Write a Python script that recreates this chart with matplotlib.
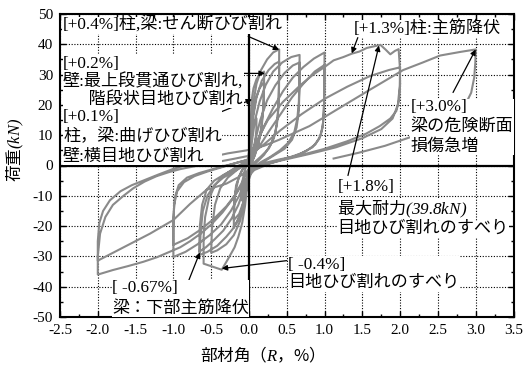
import matplotlib
matplotlib.use("Agg")
import matplotlib.pyplot as plt
import numpy as np
from matplotlib.ticker import MultipleLocator, FormatStrFormatter

plt.rcParams['font.family'] = ['Liberation Serif', 'Noto Sans CJK JP']
plt.rcParams['axes.unicode_minus'] = False
plt.rcParams['mathtext.fontset'] = 'custom'
plt.rcParams['mathtext.rm'] = 'Liberation Serif:italic'
plt.rcParams['mathtext.it'] = 'Liberation Serif:italic'

# ---- load history: drift angle R (%) and load P (kN), cycle by cycle ----
c01_R = [0, 0.005, 0.015, 0.035, 0.065, 0.1, 0.098, 0.085, 0.06, 0.03, 0.0, -0.02, -0.045, -0.075, -0.1, -0.098, -0.085, -0.06, -0.03, 0.0]
c01_P = [0, 4, 8, 11.5, 14, 15.5, 12, 8, 4.5, 1.5, -1, -4, -7.5, -10, -11.5, -8, -5, -2, 0, 1.5]

c02_R = [0.01, 0.025, 0.035, 0.06, 0.1, 0.15, 0.2, 0.2, 0.19, 0.16, 0.12, 0.07, 0.02, -0.02, -0.05, -0.09, -0.14, -0.2, -0.2, -0.18, -0.14, -0.09, -0.04, 0.0]
c02_P = [6, 15, 21.5, 25.5, 28.5, 30.2, 31, 26, 19, 12, 7, 3, 0, -4, -9, -14, -18, -20.5, -15, -9, -4.5, -1.5, 0.5, 2]

c03_R = [0.02, 0.05, 0.09, 0.14, 0.2, 0.195, 0.17, 0.13, 0.08, 0.03, -0.01, -0.04, -0.08, -0.13, -0.2, -0.195, -0.17, -0.12, -0.07, -0.02]
c03_P = [8, 16, 22, 25.5, 27.5, 21, 13, 7.5, 3.5, 0.5, -3, -8, -12.5, -16, -18, -12, -6.5, -3, -0.5, 1.5]

c04_R = [0.01, 0.03, 0.06, 0.1, 0.16, 0.24, 0.32, 0.38, 0.4, 0.398, 0.393, 0.38, 0.35, 0.29, 0.2, 0.1, 0.02,
         -0.02, -0.05, -0.09, -0.14, -0.19, -0.28, -0.36, -0.6, -0.6, -0.58, -0.53, -0.45, -0.35, -0.23, -0.1, 0.0]
c04_P = [6, 14, 21, 27, 31.5, 35, 37.3, 38.1, 38.3, 30, 22, 16, 11, 7, 3.5, 1, -1.5,
         -6, -13, -19, -23.5, -27, -31, -34.4, -32.4, -23.6, -17, -11, -6.5, -3.5, -1.5, 0.5, 2]

c05_R = [0.02, 0.05, 0.1, 0.17, 0.26, 0.34, 0.4, 0.398, 0.39, 0.37, 0.33, 0.26, 0.16, 0.07, 0.0,
         -0.03, -0.07, -0.12, -0.2, -0.3, -0.42, -0.5, -0.49, -0.45, -0.38, -0.28, -0.16, -0.05, 0.02]
c05_P = [7, 15, 22.5, 28, 31.5, 33.5, 34.3, 26, 19, 13.5, 9, 5.5, 3, 1, -1.5,
         -7, -13, -18.5, -23, -26, -28, -28.8, -21, -13, -7.5, -4, -1.5, 0.5, 2.5]

c06_R = [0.04, 0.08, 0.14, 0.22, 0.32, 0.44, 0.56, 0.67, 0.668, 0.66, 0.64, 0.6, 0.52, 0.41, 0.28, 0.15, 0.05,
         -0.02, -0.06, -0.12, -0.2, -0.3, -0.42, -0.55, -0.65, -0.64, -0.61, -0.55, -0.46, -0.34, -0.2, -0.07, 0.03]
c06_P = [8, 15, 21, 26.5, 31, 34, 35.8, 36.5, 28, 21, 15.5, 11, 7.5, 5, 2.8, 1, -1,
         -6, -11.5, -16.5, -20.5, -23.5, -26.5, -28.5, -29.5, -22, -15, -10, -6.5, -4, -2, 0, 2]

c07_R = [0.08, 0.15, 0.24, 0.35, 0.47, 0.58, 0.67, 0.668, 0.66, 0.63, 0.57, 0.47, 0.34, 0.2, 0.08,
         -0.01, -0.07, -0.14, -0.23, -0.34, -0.46, -0.57, -0.66, -0.65, -0.62, -0.56, -0.46, -0.33, -0.18, -0.05, 0.05]
c07_P = [8, 15, 21.5, 26.5, 30.5, 33, 34, 25, 18, 12.5, 8.5, 5.5, 3.5, 1.3, -0.5,
         -3.5, -8, -13, -17.5, -21.5, -24.5, -27, -28.5, -20, -13, -8, -5, -3, -1, 0.5, 2.5]

c08_R = [0.1, 0.2, 0.32, 0.45, 0.58, 0.72, 0.86, 1.0, 0.998, 0.993, 0.98, 0.95, 0.88, 0.76, 0.6, 0.42, 0.22, 0.05,
         -0.05, -0.13, -0.24, -0.37, -0.52, -0.68, -0.84, -1.0, -1.0, -0.99, -0.95, -0.86, -0.72, -0.55, -0.35, -0.15, 0.0]
c08_P = [7, 13, 19, 24.5, 29, 32.5, 35.3, 37.3, 28, 20, 14, 10, 7, 4.8, 3, 1.8, 0.5, -1.5,
         -5, -10, -15, -19.5, -23, -26, -28.5, -30.2, -21, -13, -8.5, -5.5, -3.5, -2, -0.5, 1, 2]

c09_R = [0.13, 0.27, 0.42, 0.57, 0.72, 0.87, 1.0, 0.998, 0.99, 0.975, 0.93, 0.84, 0.69, 0.49, 0.27, 0.07,
         -0.06, -0.16, -0.3, -0.46, -0.63, -0.81, -1.0, -1.0, -0.98, -0.93, -0.82, -0.66, -0.45, -0.22, 0.0]
c09_P = [6, 11.5, 17, 22.5, 27, 31, 33.2, 24.5, 17.5, 12.5, 8.8, 6, 4, 2.3, 0.6, -1.5,
         -5, -9, -13.5, -17.5, -21, -24, -26.2, -17, -10.5, -6.5, -4, -2.5, -1, 0.5, 2]

c10_R = [0.1, 0.25, 0.45, 0.68, 0.85, 1.0, 1.12, 1.25, 1.36, 1.46, 1.56, 1.65, 1.74, 1.81, 1.87, 1.93, 1.98,
         1.995, 2.0, 1.99, 1.95, 1.87, 1.73, 1.55, 1.3, 1.0, 0.7, 0.4, 0.15, 0.0,
         -0.08, -0.2, -0.35, -0.5, -0.64, -0.78, -0.91, -1.05, -1.22, -1.4, -1.6, -1.8, -2.0,
         -2.0, -1.97, -1.9, -1.8, -1.66, -1.53, -1.38, -1.22, -1.06, -0.91, -0.75, -0.6, -0.4, -0.2, 0.0]
c10_P = [8, 15, 21, 26.5, 30, 32.5, 34.7, 35.8, 36.9, 37.6, 38.8, 39.3, 39.8, 38.2, 36.7, 37.8, 38.4,
         33, 27, 22, 18, 15.5, 13, 10.5, 8, 5.5, 3.5, 2, 0.5, -1,
         -5, -10.5, -15.5, -19.5, -22.5, -25, -27, -28.5, -30.3, -31.8, -33.2, -34.5, -36,
         -30, -22.5, -17, -13, -10, -7.5, -5.3, -3.5, -2.2, -1.2, -0.4, 0.3, 1.2, 2.2, 3.2]

c11_R = [0.2, 0.41, 0.7, 1.0, 1.3, 1.6, 1.85, 2.0, 1.995, 1.97, 1.9, 1.75, 1.5, 1.15, 0.8, 0.45, 0.15, 0.0,
         -0.15, -0.3, -0.56, -0.78, -1.0, -1.31, -1.66, -2.0,
         -2.0, -1.98, -1.93, -1.84, -1.7, -1.55, -1.4, -1.2, -1.0, -0.75, -0.52, -0.28, -0.03]
c11_P = [7, 11.5, 17, 22, 26, 29.5, 31.5, 32.4, 26, 20, 15.5, 12, 9, 6, 3.8, 1.8, 0, -1.5,
         -4, -6, -8, -12.7, -18, -22.5, -27, -31.4,
         -25, -19, -15, -11.5, -8.5, -6.5, -5, -3, -1.1, 0.8, 2.7, 4, 5]

c12_R = [0.2, 0.4, 0.8, 1.2, 1.6, 2.04, 2.3, 2.53, 2.8, 3.0, 2.995, 2.98, 2.94, 2.86, 2.7, 2.45, 2.13, 1.8, 1.45, 1.12]
c12_P = [6.5, 8.5, 13, 19, 25, 31.5, 34, 36.3, 37.5, 38.3, 34, 29, 24, 20, 16.5, 13, 9.3, 6.5, 4.2, 2.3]

cycles = [(c01_R, c01_P), (c02_R, c02_P), (c03_R, c03_P), (c04_R, c04_P), (c05_R, c05_P),
          (c06_R, c06_P), (c07_R, c07_P), (c08_R, c08_P), (c09_R, c09_P), (c10_R, c10_P),
          (c11_R, c11_P), (c12_R, c12_P)]

R_all = np.concatenate([np.asarray(r, float) for r, _ in cycles])
P_all = np.concatenate([np.asarray(p, float) for _, p in cycles])

x_ticks = [-2.5, -2.0, -1.5, -1.0, -0.5, 0.0, 0.5, 1.0, 1.5, 2.0, 2.5, 3.0, 3.5]
y_ticks = [-50, -40, -30, -20, -10, 0, 10, 20, 30, 40, 50]

fig = plt.figure(figsize=(5.3, 3.69), dpi=100)
ax = fig.add_axes([60 / 530, 1 - 317 / 369, (513.5 - 60) / 530, (317 - 14) / 369])

ax.plot(R_all, P_all, color='#8a8a8a', lw=1.5, solid_joinstyle='round', zorder=3)

ax.set_xlim(x_ticks[0], x_ticks[-1])
ax.set_ylim(y_ticks[0], y_ticks[-1])
ax.set_xticks(x_ticks)
ax.set_yticks(y_ticks)
ax.xaxis.set_minor_locator(MultipleLocator(0.25))
ax.yaxis.set_minor_locator(MultipleLocator(5))
ax.xaxis.set_major_formatter(FormatStrFormatter('%.1f'))
ax.yaxis.set_major_formatter(FormatStrFormatter('%d'))
ax.grid(True, which='major', color='black', linestyle=(0, (1, 1.5)), linewidth=0.8, zorder=1)
ax.axhline(0, color='black', lw=1.6, zorder=4)
ax.axvline(0, color='black', lw=1.6, zorder=4)
for s in ax.spines.values():
    s.set_linewidth(1.5)
ax.tick_params(which='both', direction='in', top=True, right=True, width=1.0)
ax.tick_params(which='major', length=4, labelsize=11, pad=5)
ax.tick_params(which='minor', length=2.5)
for lab in ax.get_xticklabels() + ax.get_yticklabels():
    lab.set_family('Liberation Serif')

box = dict(fc='white', ec='none', pad=0.3)
def note(x, y, s, size=12.3, ls=1.2, **kw):
    return ax.text(x, y, s, fontsize=size, ha='left', va='center', zorder=7, bbox=box,
                   linespacing=ls, **kw)

def arrow(x0, y0, x1, y1):
    ax.annotate('', xy=(x1, y1), xytext=(x0, y0), zorder=6,
                arrowprops=dict(arrowstyle='-|>', color='black', lw=0.9,
                                mutation_scale=8, shrinkA=0, shrinkB=0))

arrow(-0.01, 42.6, 0.40, 38.2)
arrow(-0.08, 30.4, 0.21, 30.4)
arrow(-0.72, 14.2, 0.04, 21.8)
arrow(1.44, 42.2, 1.36, 37.0)
arrow(1.31, -3.3, 1.72, 39.6)
arrow(2.70, 24.1, 3.00, 38.3)
arrow(-0.85, -41.3, -0.65, -28.7)
arrow(0.50, -31.4, -0.36, -34.0)

note(-2.47, 46.2, '[+0.4%]柱,梁:せん断ひび割れ')
note(-2.46, 27.6, '[+0.2%]\n壁:最上段貫通ひび割れ,\n\u3000  階段状目地ひび割れ', ls=1.12)
note(-2.46, 9.5, '[+0.1%]\n柱，梁:曲げひび割れ\n壁:横目地ひび割れ', ls=1.3)
note(1.38, 45.2, '[+1.3%]柱:主筋降伏')
note(2.14, 12.7, '[+3.0%]\n梁の危険断面\n損傷急増', ls=1.3)
note(1.17, -7.2, '[+1.8%]')
note(1.17, -14.4, '最大耐力$(39.8kN)$', family='Noto Sans CJK JP')
note(1.17, -21.0, '目地ひび割れのすべり')
note(0.52, -35.8, '[ -0.4%]\n目地ひび割れのすべり', ls=1.2)
note(-1.81, -43.9, '[ -0.67%]\n梁：下部主筋降伏', ls=1.4)

fig.text(258 / 530, 1 - 355 / 369, '部材角（$R$，%）', fontsize=12, ha='center', va='center',
         family='Noto Sans CJK JP')
fig.text(15 / 530, 1 - 150 / 369, '荷重$(kN)$', fontsize=12, ha='center', va='center',
         rotation=90, family='Noto Sans CJK JP')

fig.savefig('out.png', dpi=100)
